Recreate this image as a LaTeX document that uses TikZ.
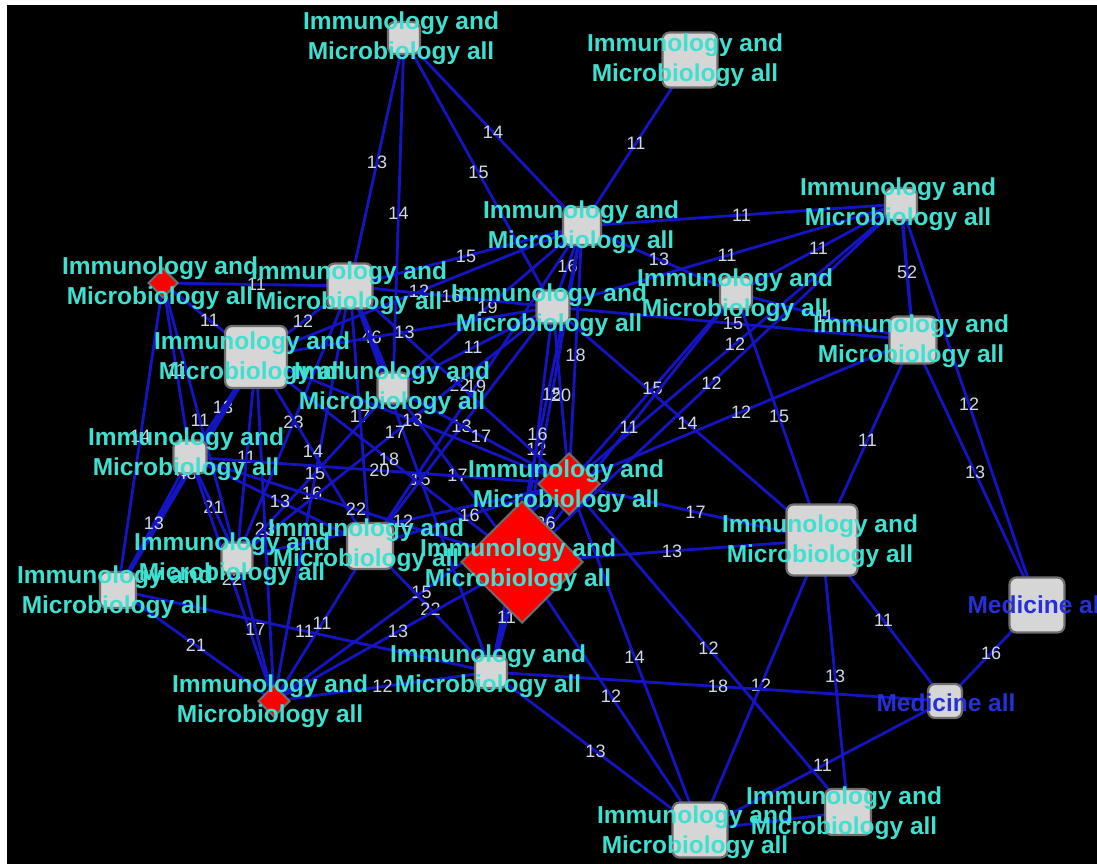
\documentclass[tikz,border=0pt]{standalone}
\usepackage{fontspec}
\setmainfont{Liberation Sans}
\usetikzlibrary{shapes.geometric}
\definecolor{edgeblue}{RGB}{20,20,195}
\definecolor{labcyan}{RGB}{64,224,208}
\definecolor{medblue}{RGB}{38,48,215}
\definecolor{numgray}{RGB}{205,218,232}
\definecolor{nodegray}{RGB}{214,214,214}
\definecolor{rimgray}{RGB}{110,110,110}
\definecolor{nodered}{RGB}{255,0,0}
\pgfdeclarelayer{bg}\pgfdeclarelayer{edges}\pgfdeclarelayer{labels}
\pgfsetlayers{bg,edges,main,labels}
\tikzset{
 sq/.style={rectangle, draw=rimgray, fill=nodegray, line width=2.2pt, rounded corners=7pt, minimum size=#1, inner sep=0pt},
 dm/.style={diamond, draw=rimgray, fill=nodered, line width=2pt, minimum width=#1, minimum height=#1, inner sep=0pt},
 lab/.style={text=labcyan, align=center, font=\bfseries\fontsize{24.5}{30.5}\selectfont, inner sep=0pt},
 medlab/.style={text=medblue, font=\bfseries\fontsize{24.5}{30.5}\selectfont, inner sep=0pt},
 link/.style={draw=edgeblue, line width=2.8pt},
 heavy/.style={draw=edgeblue, line width=5pt},
 elab/.style={text=numgray, font=\fontsize{18}{18}\selectfont, inner sep=0pt, pos=0.5},
}
\begin{document}
\begin{tikzpicture}[x=1pt,y=-1pt]
\useasboundingbox (0,0) rectangle (1097,864);
\begin{pgfonlayer}{bg}
\fill[white] (0,0) rectangle (1097,864);
\fill[black] (7,5) rectangle (1097,864);
\end{pgfonlayer}
% node shapes
\node[sq=32] (n1) at (404,38) {};
\node[sq=55] (n2) at (690,60) {};
\node[sq=38] (n3) at (582,226) {};
\node[sq=32] (n4) at (901,204) {};
\node[dm=30] (n5) at (163,283) {};
\node[sq=45] (n6) at (350,286) {};
\node[sq=33] (n7) at (553,307) {};
\node[sq=32] (n8) at (736,293) {};
\node[sq=62] (n9) at (256,357) {};
\node[sq=47] (n10) at (913,340) {};
\node[sq=31] (n11) at (393,388) {};
\node[sq=33] (n12) at (190,457) {};
\node[dm=62] (n13) at (569,484) {};
\node[sq=71] (n14) at (822,540) {};
\node[sq=46] (n15) at (370,546) {};
\node[dm=122] (n16) at (522,562) {};
\node[sq=31] (n17) at (237,558) {};
\node[sq=36] (n18) at (118,590) {};
\node[sq=55] (n19) at (1037,605) {};
\node[dm=32] (n20) at (274,701) {};
\node[sq=32] (n21) at (491,672) {};
\node[sq=34] (n22) at (945,701) {};
\node[sq=55] (n23) at (700,830) {};
\node[sq=46] (n24) at (848,812) {};
\begin{pgfonlayer}{edges}
\draw[link] (n1.center) -- (n6.center) node[elab]{13};
\draw[link] (n1.center) -- (n11.center) node[elab]{14};
\draw[link] (n1.center) -- (n3.center) node[elab]{14};
\draw[link] (n1.center) -- (n7.center) node[elab]{15};
\draw[link] (n2.center) -- (n3.center) node[elab]{11};
\draw[link] (n3.center) -- (n4.center) node[elab]{11};
\draw[link] (n3.center) -- (n8.center) node[elab]{13};
\draw[link] (n3.center) -- (n7.center) node[elab]{16};
\draw[link] (n3.center) -- (n6.center) node[elab]{15};
\draw[link] (n3.center) -- (n11.center) node[elab]{19};
\draw[link] (n3.center) -- (n13.center) node[elab]{18};
\draw[link] (n3.center) -- (n21.center) node[elab]{12};
\draw[link] (n3.center) -- (n15.center) node[elab]{19};
\draw[link] (n3.center) -- (n16.center) node[elab]{15};
\draw[link] (n3.center) -- (n9.center) node[elab]{12};
\draw[link] (n4.center) -- (n7.center) node[elab]{11};
\draw[link] (n4.center) -- (n8.center) node[elab]{11};
\draw[link,line width=3.4pt] (n4.center) -- (n10.center) node[elab]{52};
\draw[link] (n4.center) -- (n13.center) node[elab]{12};
\draw[link] (n4.center) -- (n16.center) node[elab]{12};
\draw[link] (n4.center) -- (n19.center) node[elab]{12};
\draw[link] (n5.center) -- (n6.center) node[elab]{11};
\draw[link] (n5.center) -- (n9.center) node[elab]{11};
\draw[link] (n5.center) -- (n12.center) node[elab]{11};
\draw[link] (n5.center) -- (n17.center) node[elab]{11};
\draw[link] (n5.center) -- (n18.center) node[elab]{14};
\draw[link] (n6.center) -- (n9.center) node[elab]{12};
\draw[link] (n6.center) -- (n7.center) node[elab]{16};
\draw[heavy] (n6.center) -- (n11.center) node[elab]{46};
\draw[link] (n6.center) -- (n13.center) node[elab]{22};
\draw[link] (n6.center) -- (n15.center) node[elab]{17};
\draw[link] (n6.center) -- (n17.center) node[elab]{23};
\draw[link] (n6.center) -- (n20.center) node[elab]{16};
\draw[link] (n6.center) -- (n21.center) node[elab]{15};
\draw[link] (n7.center) -- (n9.center) node[elab]{13};
\draw[link] (n7.center) -- (n11.center) node[elab]{11};
\draw[link] (n7.center) -- (n10.center) node[elab]{15};
\draw[link] (n7.center) -- (n14.center) node[elab]{14};
\draw[link] (n7.center) -- (n13.center) node[elab]{20};
\draw[link] (n7.center) -- (n16.center) node[elab]{16};
\draw[link] (n7.center) -- (n15.center) node[elab]{13};
\draw[link] (n7.center) -- (n17.center) node[elab]{17};
\draw[link] (n8.center) -- (n13.center) node[elab]{15};
\draw[link] (n8.center) -- (n16.center) node[elab]{11};
\draw[link] (n8.center) -- (n14.center) node[elab]{15};
\draw[link] (n8.center) -- (n10.center) node[elab]{11};
\draw[link] (n9.center) -- (n12.center) node[elab]{13};
\draw[link] (n9.center) -- (n15.center) node[elab]{14};
\draw[link] (n9.center) -- (n13.center) node[elab]{13};
\draw[link] (n9.center) -- (n16.center) node[elab]{18};
\draw[heavy] (n9.center) -- (n18.center) node[elab]{48};
\draw[link] (n9.center) -- (n20.center) node[elab]{23};
\draw[link] (n9.center) -- (n17.center) node[elab]{11};
\draw[link] (n10.center) -- (n13.center) node[elab]{12};
\draw[link] (n10.center) -- (n14.center) node[elab]{11};
\draw[link] (n10.center) -- (n19.center) node[elab]{13};
\draw[link] (n11.center) -- (n13.center) node[elab]{17};
\draw[link] (n11.center) -- (n16.center) node[elab]{17};
\draw[link] (n11.center) -- (n17.center) node[elab]{15};
\draw[link] (n12.center) -- (n17.center) node[elab]{21};
\draw[link] (n12.center) -- (n18.center) node[elab]{13};
\draw[link] (n12.center) -- (n15.center) node[elab]{13};
\draw[link] (n12.center) -- (n16.center) node[elab]{22};
\draw[link] (n12.center) -- (n13.center) node[elab]{20};
\draw[link] (n12.center) -- (n20.center) node[elab]{22};
\draw[link] (n13.center) -- (n15.center) node[elab]{16};
\draw[link] (n13.center) -- (n17.center) node[elab]{12};
\draw[heavy] (n13.center) -- (n16.center) node[elab]{36};
\draw[link] (n13.center) -- (n14.center) node[elab]{17};
\draw[link] (n13.center) -- (n20.center) node[elab]{15};
\draw[link] (n13.center) -- (n23.center) node[elab]{14};
\draw[link] (n13.center) -- (n24.center) node[elab]{12};
\draw[link] (n14.center) -- (n16.center) node[elab]{13};
\draw[link] (n14.center) -- (n22.center) node[elab]{11};
\draw[link] (n14.center) -- (n24.center) node[elab]{13};
\draw[link] (n14.center) -- (n23.center) node[elab]{12};
\draw[link] (n15.center) -- (n21.center) node[elab]{22};
\draw[link] (n15.center) -- (n20.center) node[elab]{11};
\draw[heavy] (n16.center) -- (n21.center) node[elab]{11};
\draw[link] (n16.center) -- (n20.center) node[elab]{13};
\draw[link] (n16.center) -- (n23.center) node[elab]{12};
\draw[link] (n17.center) -- (n20.center) node[elab]{17};
\draw[link] (n18.center) -- (n20.center) node[elab]{21};
\draw[link] (n18.center) -- (n21.center) node[elab]{11};
\draw[link] (n19.center) -- (n22.center) node[elab]{16};
\draw[link] (n20.center) -- (n21.center) node[elab]{12};
\draw[link] (n21.center) -- (n22.center) node[elab]{18};
\draw[link] (n21.center) -- (n23.center) node[elab]{13};
\draw[link] (n22.center) -- (n23.center) node[elab]{11};
\draw[link] (n23.center) -- (n24.center);
\end{pgfonlayer}
\begin{pgfonlayer}{labels}
\begin{scope}
\clip (0,0) rectangle (1097,864);
\node[lab] (l1) at (401,38) {Immunology and\\Microbiology all};
\node[lab] (l2) at (685,60) {Immunology and\\Microbiology all};
\node[lab] (l3) at (581,227) {Immunology and\\Microbiology all};
\node[lab] (l4) at (898,204) {Immunology and\\Microbiology all};
\node[lab] (l5) at (160,283) {Immunology and\\Microbiology all};
\node[lab] (l6) at (349,288) {Immunology and\\Microbiology all};
\node[lab] (l7) at (549,310) {Immunology and\\Microbiology all};
\node[lab] (l8) at (735,295) {Immunology and\\Microbiology all};
\node[lab] (l9) at (252,358) {Immunology and\\Microbiology all};
\node[lab] (l10) at (911,341) {Immunology and\\Microbiology all};
\node[lab] (l11) at (392,388) {Immunology and\\Microbiology all};
\node[lab] (l12) at (186,454) {Immunology and\\Microbiology all};
\node[lab] (l13) at (566,486) {Immunology and\\Microbiology all};
\node[lab] (l14) at (820,541) {Immunology and\\Microbiology all};
\node[lab] (l15) at (366,545) {Immunology and\\Microbiology all};
\node[lab] (l16) at (518,565) {Immunology and\\Microbiology all};
\node[lab] (l17) at (232,559) {Immunology and\\Microbiology all};
\node[lab] (l18) at (115,592) {Immunology and\\Microbiology all};
\node[medlab] (l19) at (1037,605) {Medicine all};
\node[lab] (l20) at (270,701) {Immunology and\\Microbiology all};
\node[lab] (l21) at (488,671) {Immunology and\\Microbiology all};
\node[medlab] (l22) at (946,703) {Medicine all};
\node[lab] (l23) at (695,832) {Immunology and\\Microbiology all};
\node[lab] (l24) at (844,813) {Immunology and\\Microbiology all};
\end{scope}
\end{pgfonlayer}
\end{tikzpicture}
\end{document}
